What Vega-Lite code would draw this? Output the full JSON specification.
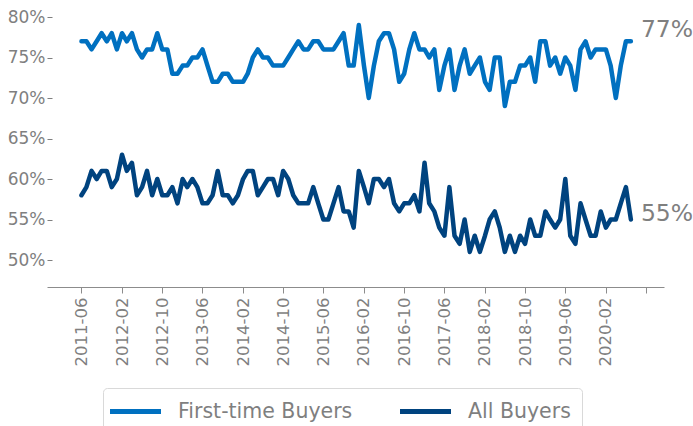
{
  "$schema": "https://vega.github.io/schema/vega-lite/v6.json",
  "width": 617,
  "height": 270,
  "autosize": {"type": "none"},
  "padding": {"left": 47, "top": 17, "right": 29, "bottom": 139},
  "config": {"view": {"stroke": null}, "font": "DejaVu Sans"},
  "data": {
    "format": {"parse": {"m": "date"}},
    "values": [
      {"m": "2011-06-01", "First-time Buyers": 0.77, "All Buyers": 0.58},
      {"m": "2011-07-01", "First-time Buyers": 0.77, "All Buyers": 0.59},
      {"m": "2011-08-01", "First-time Buyers": 0.76, "All Buyers": 0.61},
      {"m": "2011-09-01", "First-time Buyers": 0.77, "All Buyers": 0.60},
      {"m": "2011-10-01", "First-time Buyers": 0.78, "All Buyers": 0.61},
      {"m": "2011-11-01", "First-time Buyers": 0.77, "All Buyers": 0.61},
      {"m": "2011-12-01", "First-time Buyers": 0.78, "All Buyers": 0.59},
      {"m": "2012-01-01", "First-time Buyers": 0.76, "All Buyers": 0.60},
      {"m": "2012-02-01", "First-time Buyers": 0.78, "All Buyers": 0.63},
      {"m": "2012-03-01", "First-time Buyers": 0.77, "All Buyers": 0.61},
      {"m": "2012-04-01", "First-time Buyers": 0.78, "All Buyers": 0.62},
      {"m": "2012-05-01", "First-time Buyers": 0.76, "All Buyers": 0.58},
      {"m": "2012-06-01", "First-time Buyers": 0.75, "All Buyers": 0.59},
      {"m": "2012-07-01", "First-time Buyers": 0.76, "All Buyers": 0.61},
      {"m": "2012-08-01", "First-time Buyers": 0.76, "All Buyers": 0.58},
      {"m": "2012-09-01", "First-time Buyers": 0.78, "All Buyers": 0.60},
      {"m": "2012-10-01", "First-time Buyers": 0.76, "All Buyers": 0.58},
      {"m": "2012-11-01", "First-time Buyers": 0.76, "All Buyers": 0.58},
      {"m": "2012-12-01", "First-time Buyers": 0.73, "All Buyers": 0.59},
      {"m": "2013-01-01", "First-time Buyers": 0.73, "All Buyers": 0.57},
      {"m": "2013-02-01", "First-time Buyers": 0.74, "All Buyers": 0.60},
      {"m": "2013-03-01", "First-time Buyers": 0.74, "All Buyers": 0.59},
      {"m": "2013-04-01", "First-time Buyers": 0.75, "All Buyers": 0.60},
      {"m": "2013-05-01", "First-time Buyers": 0.75, "All Buyers": 0.59},
      {"m": "2013-06-01", "First-time Buyers": 0.76, "All Buyers": 0.57},
      {"m": "2013-07-01", "First-time Buyers": 0.74, "All Buyers": 0.57},
      {"m": "2013-08-01", "First-time Buyers": 0.72, "All Buyers": 0.58},
      {"m": "2013-09-01", "First-time Buyers": 0.72, "All Buyers": 0.61},
      {"m": "2013-10-01", "First-time Buyers": 0.73, "All Buyers": 0.58},
      {"m": "2013-11-01", "First-time Buyers": 0.73, "All Buyers": 0.58},
      {"m": "2013-12-01", "First-time Buyers": 0.72, "All Buyers": 0.57},
      {"m": "2014-01-01", "First-time Buyers": 0.72, "All Buyers": 0.58},
      {"m": "2014-02-01", "First-time Buyers": 0.72, "All Buyers": 0.60},
      {"m": "2014-03-01", "First-time Buyers": 0.73, "All Buyers": 0.61},
      {"m": "2014-04-01", "First-time Buyers": 0.75, "All Buyers": 0.61},
      {"m": "2014-05-01", "First-time Buyers": 0.76, "All Buyers": 0.58},
      {"m": "2014-06-01", "First-time Buyers": 0.75, "All Buyers": 0.59},
      {"m": "2014-07-01", "First-time Buyers": 0.75, "All Buyers": 0.60},
      {"m": "2014-08-01", "First-time Buyers": 0.74, "All Buyers": 0.60},
      {"m": "2014-09-01", "First-time Buyers": 0.74, "All Buyers": 0.58},
      {"m": "2014-10-01", "First-time Buyers": 0.74, "All Buyers": 0.61},
      {"m": "2014-11-01", "First-time Buyers": 0.75, "All Buyers": 0.60},
      {"m": "2014-12-01", "First-time Buyers": 0.76, "All Buyers": 0.58},
      {"m": "2015-01-01", "First-time Buyers": 0.77, "All Buyers": 0.57},
      {"m": "2015-02-01", "First-time Buyers": 0.76, "All Buyers": 0.57},
      {"m": "2015-03-01", "First-time Buyers": 0.76, "All Buyers": 0.57},
      {"m": "2015-04-01", "First-time Buyers": 0.77, "All Buyers": 0.59},
      {"m": "2015-05-01", "First-time Buyers": 0.77, "All Buyers": 0.57},
      {"m": "2015-06-01", "First-time Buyers": 0.76, "All Buyers": 0.55},
      {"m": "2015-07-01", "First-time Buyers": 0.76, "All Buyers": 0.55},
      {"m": "2015-08-01", "First-time Buyers": 0.76, "All Buyers": 0.57},
      {"m": "2015-09-01", "First-time Buyers": 0.77, "All Buyers": 0.59},
      {"m": "2015-10-01", "First-time Buyers": 0.78, "All Buyers": 0.56},
      {"m": "2015-11-01", "First-time Buyers": 0.74, "All Buyers": 0.56},
      {"m": "2015-12-01", "First-time Buyers": 0.74, "All Buyers": 0.54},
      {"m": "2016-01-01", "First-time Buyers": 0.79, "All Buyers": 0.61},
      {"m": "2016-02-01", "First-time Buyers": 0.74, "All Buyers": 0.59},
      {"m": "2016-03-01", "First-time Buyers": 0.70, "All Buyers": 0.57},
      {"m": "2016-04-01", "First-time Buyers": 0.74, "All Buyers": 0.60},
      {"m": "2016-05-01", "First-time Buyers": 0.77, "All Buyers": 0.60},
      {"m": "2016-06-01", "First-time Buyers": 0.78, "All Buyers": 0.59},
      {"m": "2016-07-01", "First-time Buyers": 0.78, "All Buyers": 0.60},
      {"m": "2016-08-01", "First-time Buyers": 0.76, "All Buyers": 0.57},
      {"m": "2016-09-01", "First-time Buyers": 0.72, "All Buyers": 0.56},
      {"m": "2016-10-01", "First-time Buyers": 0.73, "All Buyers": 0.57},
      {"m": "2016-11-01", "First-time Buyers": 0.76, "All Buyers": 0.57},
      {"m": "2016-12-01", "First-time Buyers": 0.78, "All Buyers": 0.58},
      {"m": "2017-01-01", "First-time Buyers": 0.76, "All Buyers": 0.56},
      {"m": "2017-02-01", "First-time Buyers": 0.76, "All Buyers": 0.62},
      {"m": "2017-03-01", "First-time Buyers": 0.75, "All Buyers": 0.57},
      {"m": "2017-04-01", "First-time Buyers": 0.76, "All Buyers": 0.56},
      {"m": "2017-05-01", "First-time Buyers": 0.71, "All Buyers": 0.54},
      {"m": "2017-06-01", "First-time Buyers": 0.74, "All Buyers": 0.53},
      {"m": "2017-07-01", "First-time Buyers": 0.76, "All Buyers": 0.59},
      {"m": "2017-08-01", "First-time Buyers": 0.71, "All Buyers": 0.53},
      {"m": "2017-09-01", "First-time Buyers": 0.74, "All Buyers": 0.52},
      {"m": "2017-10-01", "First-time Buyers": 0.76, "All Buyers": 0.55},
      {"m": "2017-11-01", "First-time Buyers": 0.73, "All Buyers": 0.51},
      {"m": "2017-12-01", "First-time Buyers": 0.74, "All Buyers": 0.53},
      {"m": "2018-01-01", "First-time Buyers": 0.75, "All Buyers": 0.51},
      {"m": "2018-02-01", "First-time Buyers": 0.72, "All Buyers": 0.53},
      {"m": "2018-03-01", "First-time Buyers": 0.71, "All Buyers": 0.55},
      {"m": "2018-04-01", "First-time Buyers": 0.75, "All Buyers": 0.56},
      {"m": "2018-05-01", "First-time Buyers": 0.75, "All Buyers": 0.54},
      {"m": "2018-06-01", "First-time Buyers": 0.69, "All Buyers": 0.51},
      {"m": "2018-07-01", "First-time Buyers": 0.72, "All Buyers": 0.53},
      {"m": "2018-08-01", "First-time Buyers": 0.72, "All Buyers": 0.51},
      {"m": "2018-09-01", "First-time Buyers": 0.74, "All Buyers": 0.53},
      {"m": "2018-10-01", "First-time Buyers": 0.74, "All Buyers": 0.52},
      {"m": "2018-11-01", "First-time Buyers": 0.75, "All Buyers": 0.55},
      {"m": "2018-12-01", "First-time Buyers": 0.72, "All Buyers": 0.53},
      {"m": "2019-01-01", "First-time Buyers": 0.77, "All Buyers": 0.53},
      {"m": "2019-02-01", "First-time Buyers": 0.77, "All Buyers": 0.56},
      {"m": "2019-03-01", "First-time Buyers": 0.74, "All Buyers": 0.55},
      {"m": "2019-04-01", "First-time Buyers": 0.75, "All Buyers": 0.54},
      {"m": "2019-05-01", "First-time Buyers": 0.73, "All Buyers": 0.55},
      {"m": "2019-06-01", "First-time Buyers": 0.75, "All Buyers": 0.60},
      {"m": "2019-07-01", "First-time Buyers": 0.74, "All Buyers": 0.53},
      {"m": "2019-08-01", "First-time Buyers": 0.71, "All Buyers": 0.52},
      {"m": "2019-09-01", "First-time Buyers": 0.76, "All Buyers": 0.57},
      {"m": "2019-10-01", "First-time Buyers": 0.77, "All Buyers": 0.55},
      {"m": "2019-11-01", "First-time Buyers": 0.75, "All Buyers": 0.53},
      {"m": "2019-12-01", "First-time Buyers": 0.76, "All Buyers": 0.53},
      {"m": "2020-01-01", "First-time Buyers": 0.76, "All Buyers": 0.56},
      {"m": "2020-02-01", "First-time Buyers": 0.76, "All Buyers": 0.54},
      {"m": "2020-03-01", "First-time Buyers": 0.74, "All Buyers": 0.55},
      {"m": "2020-04-01", "First-time Buyers": 0.70, "All Buyers": 0.55},
      {"m": "2020-05-01", "First-time Buyers": 0.74, "All Buyers": 0.57},
      {"m": "2020-06-01", "First-time Buyers": 0.77, "All Buyers": 0.59},
      {"m": "2020-07-01", "First-time Buyers": 0.77, "All Buyers": 0.55}
    ]
  },
  "transform": [{"fold": ["First-time Buyers", "All Buyers"], "as": ["series", "value"]}],
  "encoding": {
    "x": {
      "field": "m",
      "type": "temporal",
      "scale": {
        "type": "utc",
        "domain": [
          {"year": 2010, "month": 11, "date": 5, "utc": true},
          {"year": 2021, "month": 1, "date": 17, "utc": true}
        ]
      },
      "axis": {
        "title": null,
        "grid": false,
        "values": [
          {"year": 2011, "month": 6, "date": 1, "utc": true},
          {"year": 2012, "month": 2, "date": 1, "utc": true},
          {"year": 2012, "month": 10, "date": 1, "utc": true},
          {"year": 2013, "month": 6, "date": 1, "utc": true},
          {"year": 2014, "month": 2, "date": 1, "utc": true},
          {"year": 2014, "month": 10, "date": 1, "utc": true},
          {"year": 2015, "month": 6, "date": 1, "utc": true},
          {"year": 2016, "month": 2, "date": 1, "utc": true},
          {"year": 2016, "month": 10, "date": 1, "utc": true},
          {"year": 2017, "month": 6, "date": 1, "utc": true},
          {"year": 2018, "month": 2, "date": 1, "utc": true},
          {"year": 2018, "month": 10, "date": 1, "utc": true},
          {"year": 2019, "month": 6, "date": 1, "utc": true},
          {"year": 2020, "month": 2, "date": 1, "utc": true},
          {"year": 2020, "month": 10, "date": 1, "utc": true}
        ],
        "labelExpr": "utcFormat(datum.value, '%Y-%m') == '2020-10' ? '' : utcFormat(datum.value, '%Y-%m')",
        "labelAngle": -90,
        "labelFontSize": 16.5,
        "labelColor": "#7f7f7f",
        "labelPadding": 4,
        "domainColor": "#8c8c8c",
        "tickColor": "#8c8c8c",
        "tickSize": 6,
        "labelFlush": false,
        "labelOverlap": false
      }
    },
    "y": {
      "field": "value",
      "type": "quantitative",
      "scale": {"domain": [0.4667, 0.8], "nice": false, "zero": false},
      "axis": {
        "title": null,
        "grid": false,
        "domain": false,
        "values": [0.5, 0.55, 0.6, 0.65, 0.7, 0.75, 0.8],
        "format": ".0%",
        "offset": -5,
        "tickSize": 5,
        "tickColor": "#7f7f7f",
        "labelPadding": 2,
        "labelFontSize": 17,
        "labelColor": "#7f7f7f"
      }
    }
  },
  "layer": [
    {
      "mark": {"type": "line", "strokeWidth": 4.5, "strokeJoin": "round", "strokeCap": "round"},
      "encoding": {
        "color": {
          "field": "series",
          "type": "nominal",
          "scale": {"domain": ["First-time Buyers", "All Buyers"], "range": ["#0070C0", "#00437F"]},
          "legend": {
            "title": null,
            "orient": "none",
            "legendX": 56,
            "legendY": 371,
            "direction": "horizontal",
            "symbolType": "M-2.55,0H2.55",
            "symbolSize": 400,
            "symbolStrokeWidth": 5,
            "symbolOffset": 9,
            "labelOffset": 30,
            "labelLimit": 0,
            "labelFontSize": 20.5,
            "labelColor": "#7f7f7f",
            "strokeColor": "#d9d9d9",
            "cornerRadius": 4,
            "padding": 11,
            "columnPadding": 37
          }
        }
      }
    },
    {
      "transform": [{"filter": "datum.series == 'First-time Buyers' && time(datum.m) == time('2020-07-01')"}],
      "mark": {"type": "text", "align": "left", "baseline": "middle", "dx": 10, "dy": -11, "fontSize": 23.5, "color": "#7f7f7f"},
      "encoding": {"text": {"field": "value", "type": "quantitative", "format": ".0%"}}
    },
    {
      "transform": [{"filter": "datum.series == 'All Buyers' && time(datum.m) == time('2020-07-01')"}],
      "mark": {"type": "text", "align": "left", "baseline": "middle", "dx": 10, "dy": -6, "fontSize": 23.5, "color": "#7f7f7f"},
      "encoding": {"text": {"field": "value", "type": "quantitative", "format": ".0%"}}
    }
  ]
}
